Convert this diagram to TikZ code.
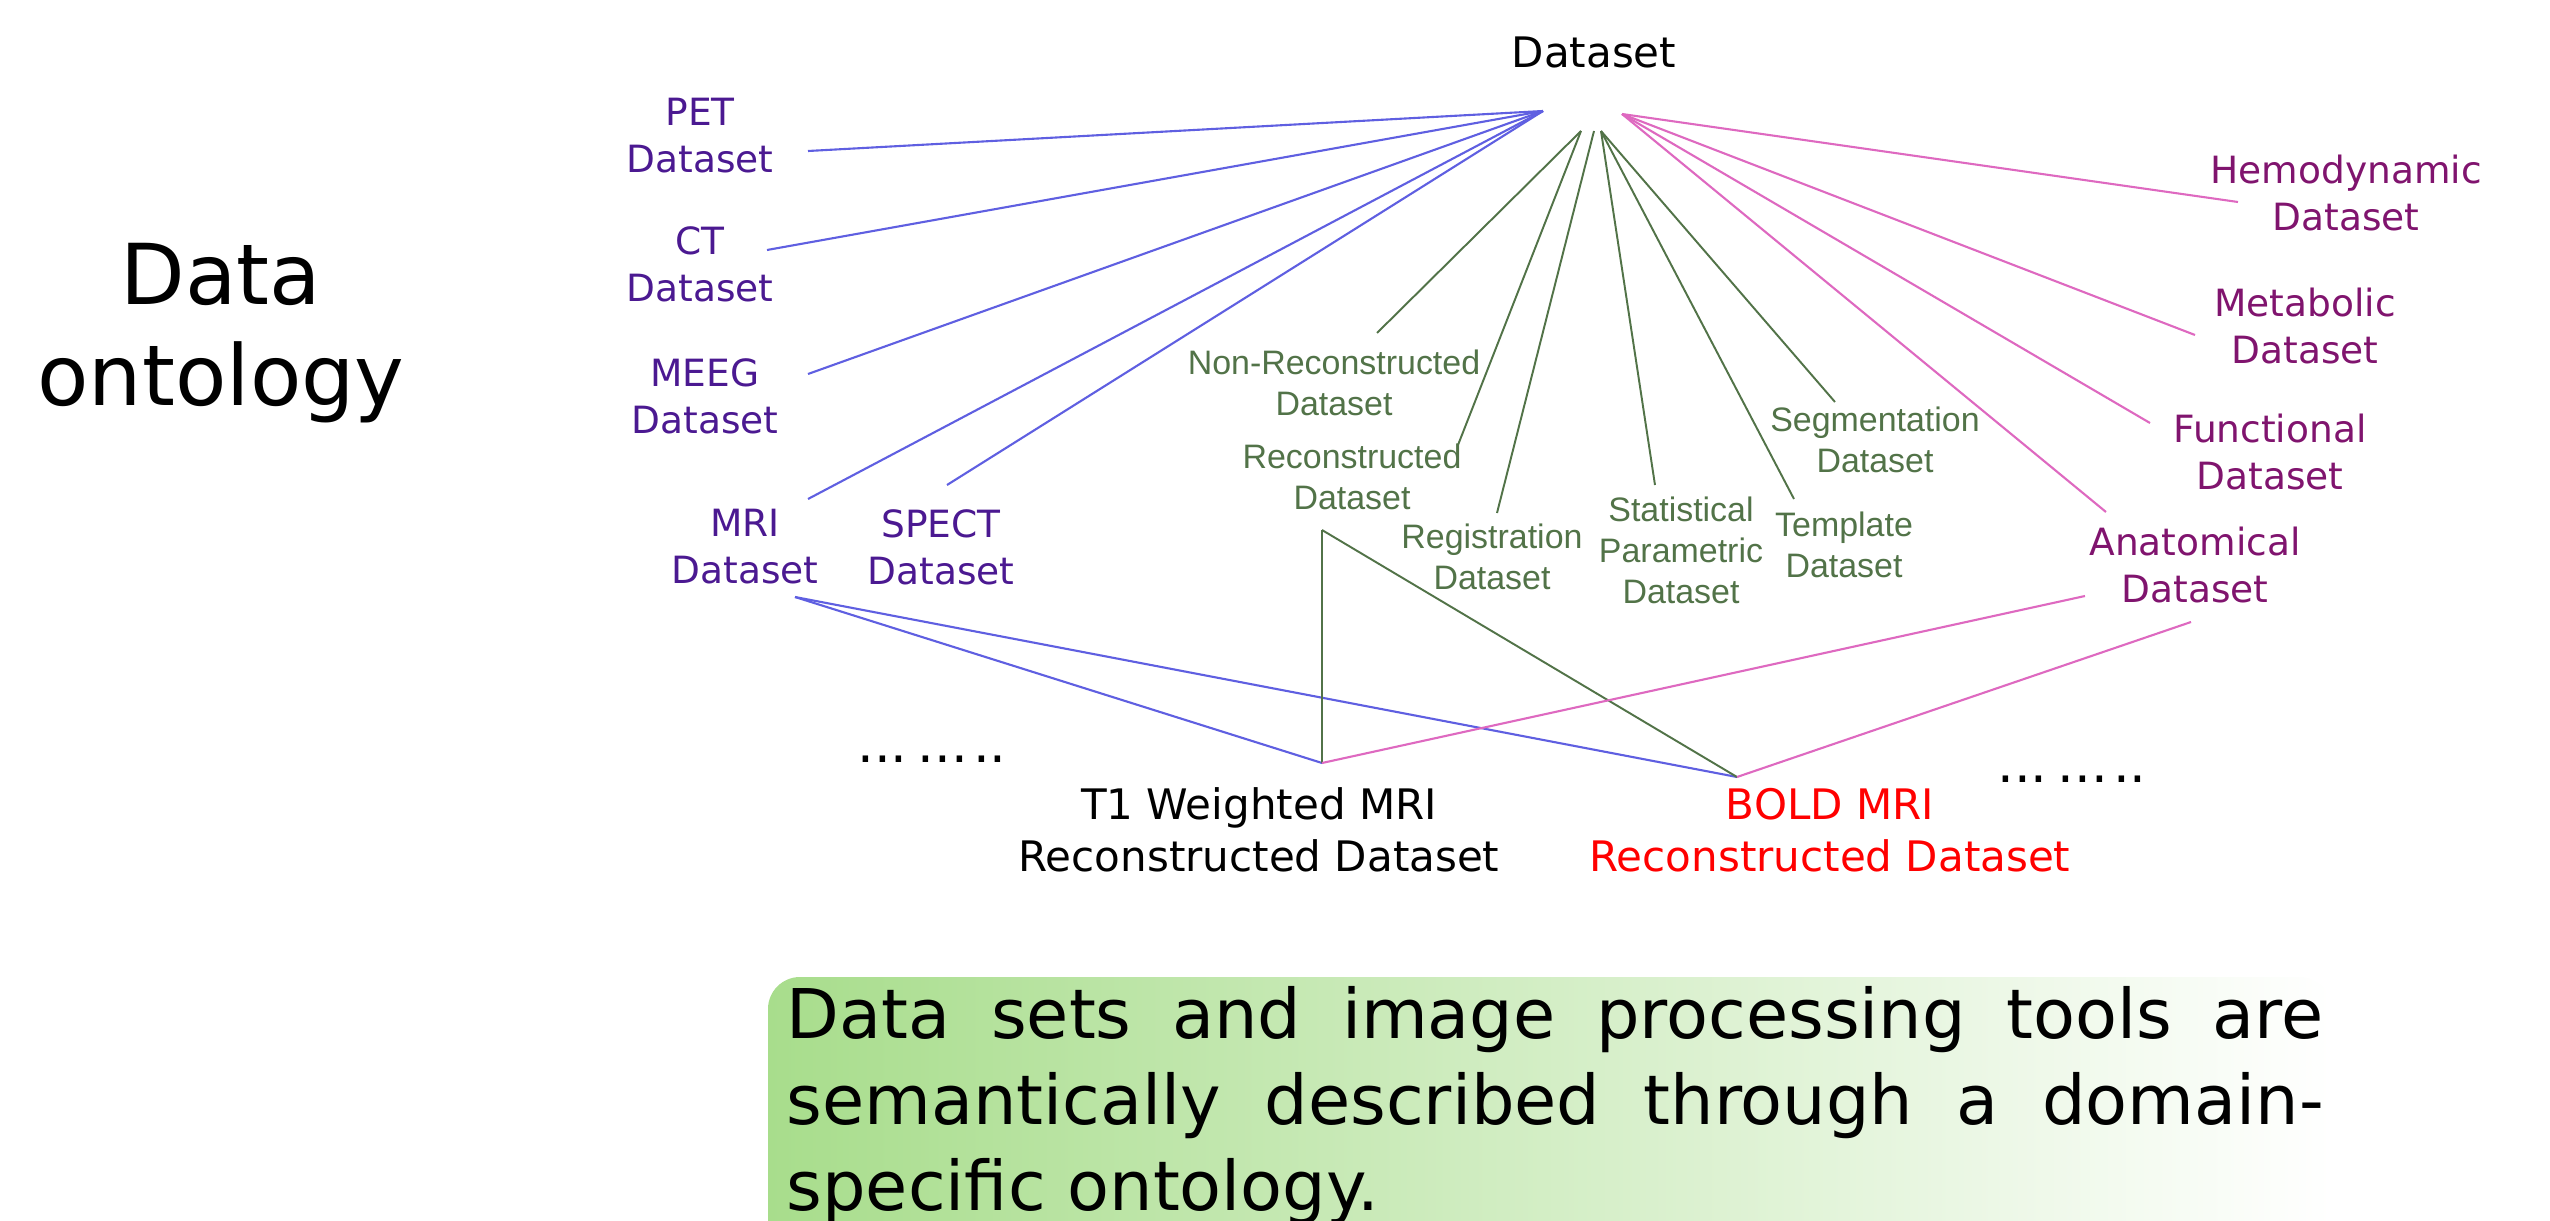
\documentclass[tikz,border=0pt]{standalone}
\usepackage{fontspec}
\setmainfont{DejaVu Sans}
\newfontfamily\arialf{Liberation Sans}
\definecolor{lblblue}{RGB}{75,25,145}
\definecolor{lnblue}{RGB}{95,95,225}
\definecolor{lblpink}{RGB}{128,20,110}
\definecolor{lnpink}{RGB}{222,105,192}
\definecolor{grn}{RGB}{82,115,72}
\definecolor{boxgreen}{RGB}{168,221,140}
\begin{document}
\begin{tikzpicture}[x=0.01cm,y=-0.01cm,
  lbl/.style={inner sep=0,align=center,font=\fontsize{10.67}{13.37}\selectfont},
  bl/.style={lbl,text=lblblue},
  pk/.style={lbl,text=lblpink},
  gr/.style={inner sep=0,align=center,text=grn,font=\arialf\fontsize{9.65}{11.67}\selectfont},
  big/.style={inner sep=0,align=center,font=\fontsize{11.95}{14.8}\selectfont},
  dots/.style={inner sep=0,anchor=base,font=\fontsize{15}{18}\selectfont},
  bline/.style={draw=lnblue,line width=0.6pt},
  gline/.style={draw=grn,line width=0.55pt},
  pline/.style={draw=lnpink,line width=0.6pt}]
\useasboundingbox (0,0) rectangle (2550,1221);

% caption box
\shade[left color=boxgreen,right color=white,rounded corners=0.32cm] (768,977) rectangle (2332,1320);
\node[anchor=north west,inner sep=0,align=left,font=\fontsize{19.5}{24.47}\selectfont] (txt) at (786,986)
  {\makebox[15.36cm][s]{Data sets and image processing tools are}\\
   \makebox[15.36cm][s]{semantically described through a domain-}\\
   specific ontology.};

% title
\node[inner sep=0,align=center,font=\fontsize{23.9}{28.7}\selectfont] (title) at (221,333) {Data\\ontology};

% root
\node[big] (ds) at (1594,52) {Dataset};

% modality datasets
\node[bl] (pet) at (700,136) {PET\\Dataset};
\node[bl] (ct) at (700,264) {CT\\Dataset};
\node[bl] (meeg) at (705,396) {MEEG\\Dataset};
\node[bl] (mri) at (745,547) {MRI\\Dataset};
\node[bl] (spect) at (941,547) {SPECT\\Dataset};

% processing datasets
\node[gr] (nr) at (1334,383) {Non-Reconstructed\\Dataset};
\node[gr] (rec) at (1352,477) {Reconstructed\\Dataset};
\node[gr] (reg) at (1492,557) {Registration\\Dataset};
\node[gr] (spm) at (1681,550) {Statistical\\Parametric\\Dataset};
\node[gr] (tpl) at (1844,545) {Template\\Dataset};
\node[gr] (seg) at (1875,440) {Segmentation\\Dataset};

% content datasets
\node[pk] (hemo) at (2346,193) {Hemodynamic\\Dataset};
\node[pk] (meta) at (2305,326) {Metabolic\\Dataset};
\node[pk] (func) at (2270,452) {Functional\\Dataset};
\node[pk] (anat) at (2195,565) {Anatomical\\Dataset};

% leaf datasets
\node[big] (t1) at (1259,830) {T1 Weighted MRI\\Reconstructed Dataset};
\node[big,text=red] (bold) at (1830,830) {BOLD MRI\\Reconstructed Dataset};
\node[dots] (dl) at (932,762) {...\hspace{0.1cm}...\hspace{0.05cm}..};
\node[dots] (dr) at (2072,782) {...\hspace{0.1cm}...\hspace{0.05cm}..};

% connector points
\coordinate (bA) at (1543,111);
\coordinate (gA1) at (1581,131);
\coordinate (gA2) at (1594,131);
\coordinate (gA3) at (1601,131);
\coordinate (pA) at (1622,114);
\coordinate (petE) at (808,151);
\coordinate (ctE) at (767,250);
\coordinate (meegE) at (808,374);
\coordinate (mriE) at (808,499);
\coordinate (spectE) at (947,485);
\coordinate (nrE) at (1377,333);
\coordinate (recE) at (1458,445);
\coordinate (regE) at (1497,513);
\coordinate (spmE) at (1655,485);
\coordinate (tplE) at (1794,499);
\coordinate (segE) at (1835,402);
\coordinate (hemoE) at (2238,202);
\coordinate (metaE) at (2195,335);
\coordinate (funcE) at (2150,423);
\coordinate (anatE) at (2106,512);
\coordinate (mriB) at (795,597);
\coordinate (recB) at (1322,530);
\coordinate (anatB1) at (2085,596);
\coordinate (anatB2) at (2191,622);
\coordinate (t1T) at (1322,763);
\coordinate (boldT) at (1737,777);

% blue
\draw[bline] (bA) -- (petE);
\draw[bline] (bA) -- (ctE);
\draw[bline] (bA) -- (meegE);
\draw[bline] (bA) -- (mriE);
\draw[bline] (bA) -- (spectE);
% green
\draw[gline] (gA1) -- (nrE);
\draw[gline] (gA1) -- (recE);
\draw[gline] (gA2) -- (regE);
\draw[gline] (gA3) -- (spmE);
\draw[gline] (gA3) -- (tplE);
\draw[gline] (gA3) -- (segE);
% pink
\draw[pline] (pA) -- (hemoE);
\draw[pline] (pA) -- (metaE);
\draw[pline] (pA) -- (funcE);
\draw[pline] (pA) -- (anatE);
% bottom
\draw[bline] (mriB) -- (t1T);
\draw[bline] (mriB) -- (boldT);
\draw[gline] (recB) -- (t1T);
\draw[gline] (recB) -- (boldT);
\draw[pline] (t1T) -- (anatB1);
\draw[pline] (boldT) -- (anatB2);
\end{tikzpicture}
\end{document}
